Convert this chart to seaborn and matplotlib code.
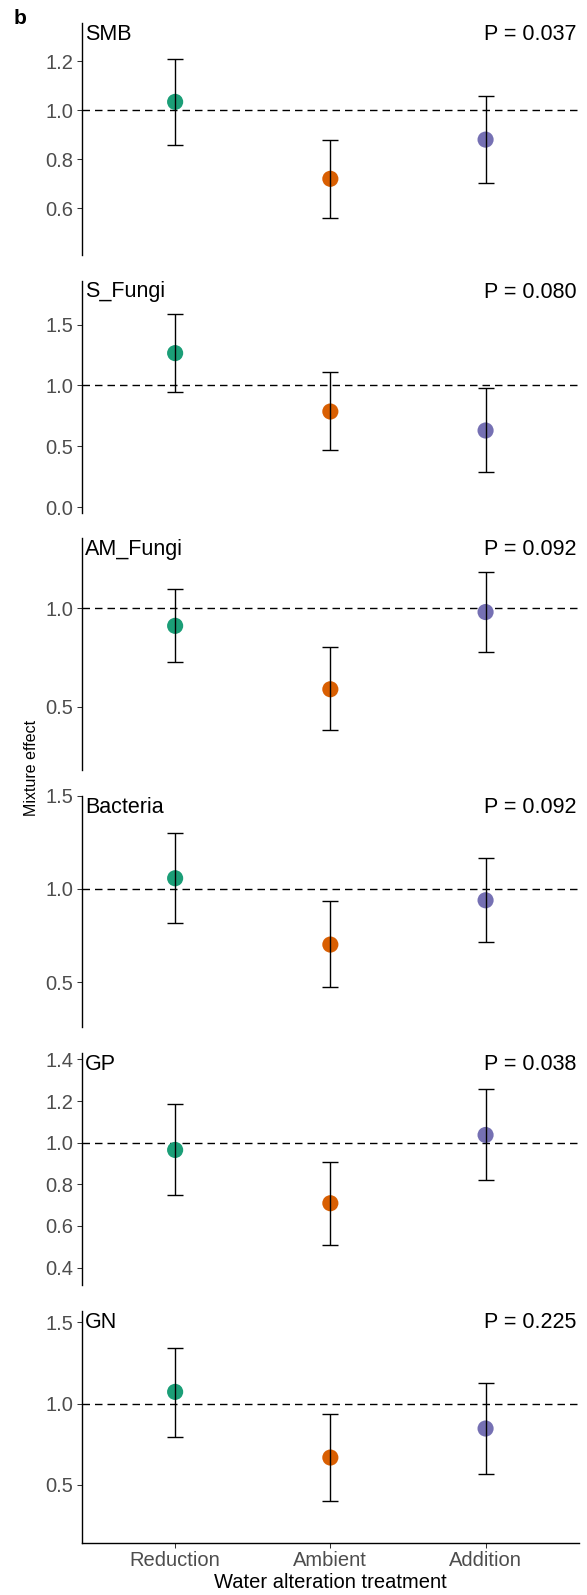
import numpy as np
import pandas as pd
import matplotlib
matplotlib.use("Agg")
import matplotlib.pyplot as plt
import seaborn as sns

# ---------------- data ----------------
treatments = ["Reduction", "Ambient", "Addition"]
panels = ["SMB", "S_Fungi", "AM_Fungi", "Bacteria", "GP", "GN"]
p_labels = ["P = 0.037", "P = 0.080", "P = 0.092", "P = 0.092", "P = 0.038", "P = 0.225"]

smb_mean = [1.034, 0.720, 0.880]
smb_low = [0.860, 0.559, 0.703]
smb_high = [1.208, 0.880, 1.056]

sfungi_mean = [1.265, 0.785, 0.629]
sfungi_low = [0.946, 0.468, 0.288]
sfungi_high = [1.589, 1.106, 0.976]

amfungi_mean = [0.910, 0.588, 0.980]
amfungi_low = [0.727, 0.380, 0.778]
amfungi_high = [1.097, 0.802, 1.185]

bact_mean = [1.057, 0.702, 0.939]
bact_low = [0.816, 0.476, 0.718]
bact_high = [1.301, 0.934, 1.164]

gp_mean = [0.965, 0.709, 1.037]
gp_low = [0.747, 0.510, 0.821]
gp_high = [1.186, 0.907, 1.257]

gn_mean = [1.072, 0.667, 0.846]
gn_low = [0.795, 0.396, 0.564]
gn_high = [1.342, 0.933, 1.127]

y_limits = [(0.409, 1.356), (-0.045, 1.862), (0.178, 1.356),
            (0.258, 1.500), (0.316, 1.431), (0.143, 1.574)]
y_ticks = [[0.6, 0.8, 1.0, 1.2], [0.0, 0.5, 1.0, 1.5], [0.5, 1.0],
           [0.5, 1.0, 1.5], [0.4, 0.6, 0.8, 1.0, 1.2, 1.4], [0.5, 1.0, 1.5]]

palette = ["#1B9E77", "#D95F02", "#7570B3"]

means = [smb_mean, sfungi_mean, amfungi_mean, bact_mean, gp_mean, gn_mean]
lows = [smb_low, sfungi_low, amfungi_low, bact_low, gp_low, gn_low]
highs = [smb_high, sfungi_high, amfungi_high, bact_high, gp_high, gn_high]

rows = []
for name, m, lo, hi in zip(panels, means, lows, highs):
    for t, a, b, c in zip(treatments, m, lo, hi):
        rows.append(dict(panel=name, treatment=t, mean=a, low=b, high=c))
df = pd.DataFrame(rows)

# ---------------- style ----------------
sns.set_theme(style="white")
plt.rcParams["font.family"] = ["Liberation Sans", "DejaVu Sans"]

W, H = 587, 1595
fig = plt.figure(figsize=(W / 100, H / 100), dpi=100)

ax_left_px, ax_right_px = 82, 578.7
panel_top0, panel_pitch, panel_h = 23, 257.5, 232

tick_color = "#4D4D4D"

for i, name in enumerate(panels):
    top = panel_top0 + panel_pitch * i
    ax = fig.add_axes([ax_left_px / W, 1 - (top + panel_h) / H,
                       (ax_right_px - ax_left_px) / W, panel_h / H])
    sub = df[df.panel == name]
    ax.axhline(1.0, color="black", lw=1.0, ls=(0, (5.4, 3.6)), zorder=1)
    sns.scatterplot(data=sub, x="treatment", y="mean", hue="treatment",
                    hue_order=treatments, palette=palette, s=135,
                    edgecolor="none", linewidth=0, legend=False, ax=ax, zorder=2)
    ax.errorbar(sub["treatment"], sub["mean"],
                yerr=[sub["mean"] - sub["low"], sub["high"] - sub["mean"]],
                fmt="none", ecolor="black", elinewidth=1.0, capsize=5.8,
                capthick=1.0, zorder=3)
    ax.set_xlim(-0.6, 2.6)
    ax.set_ylim(*y_limits[i])
    ax.set_yticks(y_ticks[i])
    ax.set_yticklabels([f"{v:.1f}" for v in y_ticks[i]])
    ax.set_xlabel("")
    ax.set_ylabel("")
    for s in ["top", "right"]:
        ax.spines[s].set_visible(False)
    ax.spines["left"].set_color("black")
    ax.spines["left"].set_linewidth(1.0)
    ax.tick_params(axis="y", which="both", left=True, length=3.4, width=0.75,
                   color="#333333", labelsize=14.5, labelcolor=tick_color, pad=2.9)
    if i < len(panels) - 1:
        ax.spines["bottom"].set_visible(False)
        ax.tick_params(axis="x", bottom=False, labelbottom=False)
    else:
        ax.spines["bottom"].set_color("black")
        ax.spines["bottom"].set_linewidth(1.0)
        ax.tick_params(axis="x", bottom=True, length=3.4, width=0.75,
                       color="#333333", labelsize=14.5, labelcolor=tick_color, pad=2.9)
        ax.set_xlabel("Water alteration treatment", fontsize=14.5, color="black",
                      labelpad=2)
    ax.grid(False)
    # panel label and P value
    base_y = 1 - (top + 17) / H
    fig.text(85 / W, base_y, name, fontsize=15.5, color="black",
             ha="left", va="baseline")
    fig.text(576.7 / W, base_y, p_labels[i], fontsize=15.5, color="black",
             ha="right", va="baseline")

fig.text(32 / W, 1 - 768 / H, "Mixture effect", rotation=90, fontsize=11.5,
         ha="center", va="center", color="black")
fig.text(14 / W, 1 - 9 / H, "b", fontsize=15, fontweight="bold",
         ha="left", va="top", color="black")

fig.savefig("out.png", dpi=100)
